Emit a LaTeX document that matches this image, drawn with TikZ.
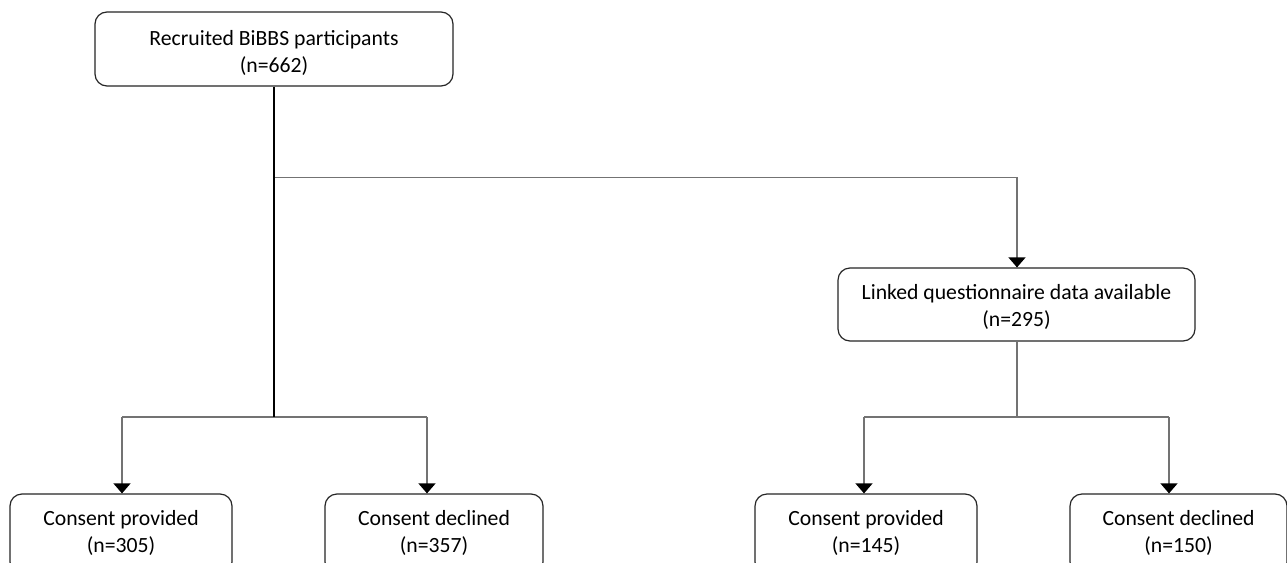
\documentclass[tikz,border=0pt]{standalone}
\usepackage{fontspec}
\setmainfont{Carlito}
\usetikzlibrary{arrows.meta}
\begin{document}
\begin{tikzpicture}[x=1pt,y=-1pt,
  box/.style={draw=black!85, line width=1.2pt, rounded corners=12pt, inner sep=0pt},
  txt/.style={align=center, inner sep=0pt, font=\fontsize{21.7pt}{27pt}\selectfont},
  conn/.style={draw=black!55, line width=1.2pt},
  arr/.style={conn, -{Triangle[width=17pt,length=10pt,color=black]}},
  stem/.style={draw=black, line width=2pt}]
\clip (0,0) rectangle (1287,562);
\fill[white] (0,0) rectangle (1287,562);
% boxes
\node[box, minimum width=358pt, minimum height=74pt] (top) at (274,49) {};
\node[txt] (toptxt) at (274,53) {Recruited BiBBS participants\\(n=662)};
\node[box, minimum width=357pt, minimum height=73pt] (link) at (1016.5,304.5) {};
\node[txt] (linktxt) at (1016.5,306.5) {Linked questionnaire data available\\(n=295)};
\node[box, minimum width=222pt, minimum height=80pt] (cp1) at (121,534) {};
\node[txt] (cp1txt) at (121,533) {Consent provided\\(n=305)};
\node[box, minimum width=218pt, minimum height=80pt] (cd1) at (434,534) {};
\node[txt] (cd1txt) at (434,533) {Consent declined\\(n=357)};
\node[box, minimum width=222pt, minimum height=80pt] (cp2) at (866,534) {};
\node[txt] (cp2txt) at (866,533) {Consent provided\\(n=145)};
\node[box, minimum width=217pt, minimum height=80pt] (cd2) at (1178.5,534) {};
\node[txt] (cd2txt) at (1178.5,533) {Consent declined\\(n=150)};
% junction coordinates
\coordinate (j1) at (274,177.5);
\coordinate (j2) at (274,417);
\coordinate (jl) at (122,417);
\coordinate (jr) at (427,417);
\coordinate (k1) at (1017,417);
\coordinate (kl) at (864,417);
\coordinate (kr) at (1169,417);
% connectors
\draw[conn] (j1) -| (link.north -| k1);
\draw[arr] (1017,177.5) -- (link.north -| k1);
\draw[conn] (jl) -- (jr);
\draw[arr] (jl) -- (cp1.north -| jl);
\draw[arr] (jr) -- (cd1.north -| jr);
\draw[stem] (top.south) -- (j2);
\draw[conn] (link.south -| k1) -- (k1);
\draw[conn] (kl) -- (kr);
\draw[arr] (kl) -- (cp2.north -| kl);
\draw[arr] (kr) -- (cd2.north -| kr);
\end{tikzpicture}
\end{document}
